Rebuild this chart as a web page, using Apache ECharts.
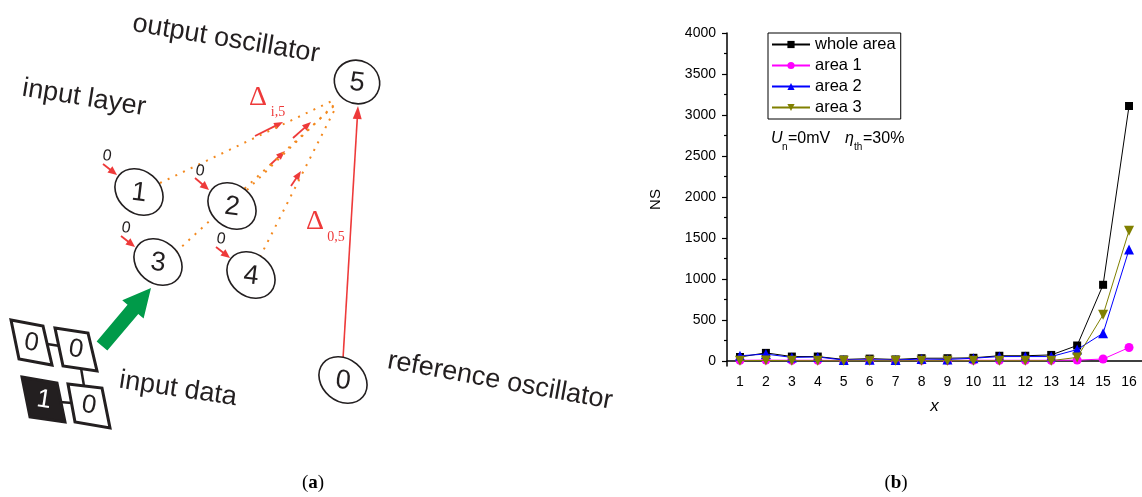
<!DOCTYPE html>
<html>
<head>
<meta charset="utf-8">
<script src="https://cdn.jsdelivr.net/npm/echarts@6/dist/echarts.min.js"></script>
<style>
html,body{margin:0;padding:0;background:#fff;}
#chart{width:1142px;height:497px;}
</style>
</head>
<body>
<div id="chart"></div>
<script>
// ---------- chart data ----------
const categories = ['1','2','3','4','5','6','7','8','9','10','11','12','13','14','15','16'];
const wholeArea = [50, 100, 55, 55, 20, 30, 20, 35, 35, 40, 65, 65, 75, 190, 930, 3110];
const area1     = [10, 12, 10, 10, 8, 10, 8, 10, 8, 10, 10, 10, 10, 12, 25, 165];
const area2     = [65, 85, 45, 50, 12, 15, 12, 25, 20, 35, 55, 55, 55, 140, 340, 1360];
const area3     = [5, 8, 5, 5, 4, 5, 4, 5, 5, 5, 5, 5, 5, 45, 565, 1590];
const seriesNames = ['whole area', 'area 1', 'area 2', 'area 3'];
const yTickValues = [0, 500, 1000, 1500, 2000, 2500, 3000, 3500, 4000];
const yMinorTickValues = [250, 750, 1250, 1750, 2250, 2750, 3250, 3750];

// ---------- diagram helpers (left panel illustration) ----------
const INK = '#231F20';
const RED = '#EE3A3A';
const ORANGE = '#F3891F';
const GREEN = '#009A49';
const SANS = '"Liberation Sans", Arial, sans-serif';
const SERIF = '"Liberation Serif", "Times New Roman", serif';

function arrow(x1, y1, x2, y2, color, lw, hl, hw) {
  const dx = x2 - x1, dy = y2 - y1, L = Math.hypot(dx, dy), ux = dx / L, uy = dy / L;
  const bx = x2 - ux * hl, by = y2 - uy * hl;
  return [
    {type: 'line', silent: true, shape: {x1: x1, y1: y1, x2: bx + ux, y2: by + uy}, style: {stroke: color, lineWidth: lw}},
    {type: 'polygon', silent: true, shape: {points: [[x2, y2], [bx - uy * hw / 2, by + ux * hw / 2], [bx + uy * hw / 2, by - ux * hw / 2]]}, style: {fill: color}}
  ];
}
function txt(x, y, text, size, rot, opts) {
  opts = opts || {};
  return {type: 'text', silent: true, x: x, y: y, rotation: rot || 0, z: 10,
    style: Object.assign({text: text, fontSize: size, fontFamily: SANS, fill: INK, align: 'center', verticalAlign: 'middle'}, opts)};
}
function node(x, y, label, rx, ry, rot) {
  return [
    {type: 'ellipse', silent: true, x: x, y: y, rotation: rot, shape: {cx: 0, cy: 0, rx: rx, ry: ry}, style: {fill: '#fff', stroke: INK, lineWidth: 1.6}, z: 5},
    txt(x, y + 1, label, 27, -0.12)
  ];
}
function dotted(x1, y1, x2, y2) {
  return {type: 'line', silent: true, shape: {x1: x1, y1: y1, x2: x2, y2: y2}, style: {stroke: ORANGE, lineWidth: 2, lineDash: [2, 6.5]}, z: 2};
}
function box(points, dark, label, cx, cy) {
  return [
    {type: 'polygon', silent: true, shape: {points: points}, style: {fill: dark ? INK : '#fff', stroke: INK, lineWidth: 3, lineJoin: 'miter'}, z: 5},
    txt(cx, cy, label, 26, -0.15, {fill: dark ? '#fff' : INK})
  ];
}
function bigArrow(tx, ty, px, py) {
  const dx = px - tx, dy = py - ty, L = Math.hypot(dx, dy), ux = dx / L, uy = dy / L, nx = -uy, ny = ux;
  const hl = 28, sw = 7, hw = 14;
  const kx = tx + ux * (L - hl), ky = ty + uy * (L - hl);
  return {type: 'polygon', silent: true, shape: {points: [
    [tx - nx * sw, ty - ny * sw], [kx - nx * sw, ky - ny * sw], [kx - nx * hw, ky - ny * hw], [px, py],
    [kx + nx * hw, ky + ny * hw], [kx + nx * sw, ky + ny * sw], [tx + nx * sw, ty + ny * sw]
  ]}, style: {fill: GREEN}, z: 4};
}

let diagram = [];
// dotted connections to output oscillator
diagram.push(dotted(160, 183, 334, 100), dotted(247, 190, 338, 101), dotted(176, 252, 336, 104), dotted(260, 257, 336, 107));
// nodes
diagram = diagram.concat(
  node(139, 192, '1', 26, 21, -0.7),
  node(232, 206, '2', 26, 21, -0.7),
  node(158, 262, '3', 26, 21, -0.7),
  node(251, 275, '4', 26, 21, -0.7),
  node(343, 380, '0', 26, 21, -0.7),
  node(357, 82, '5', 23, 21.5, -0.5)
);
// small input zeros + arrows
[[107, 156, 103, 164, 117, 175], [200, 171, 195, 178, 209, 190], [126, 228, 121, 236, 135, 247], [221, 239, 216, 247, 230, 258]].forEach(function (a) {
  diagram.push(txt(a[0], a[1], '0', 16, -0.15, {fontFamily: SANS}));
  diagram = diagram.concat(arrow(a[2], a[3], a[4], a[5], RED, 1.8, 9, 8));
});
// arrows along the dotted lines
diagram = diagram.concat(
  arrow(255, 136, 283, 122, RED, 1.8, 9, 7),
  arrow(293, 138, 311, 122, RED, 1.8, 9, 7),
  arrow(270, 165, 285, 151, RED, 1.8, 9, 7),
  arrow(291, 186, 301, 171, RED, 1.8, 9, 7),
  arrow(343, 359, 358, 106, RED, 1.6, 13, 9)
);
// delta labels
diagram.push(
  txt(258, 98, 'Δ', 28, 0, {fill: RED, fontFamily: SERIF}),
  txt(278, 112, 'i,5', 14, 0, {fill: RED, fontFamily: SERIF}),
  txt(315, 222, 'Δ', 28, 0, {fill: RED, fontFamily: SERIF}),
  txt(336, 237, '0,5', 14, 0, {fill: RED, fontFamily: SERIF})
);
// input data boxes
diagram = diagram.concat(
  [{type: 'line', silent: true, shape: {x1: 47, y1: 344, x2: 60, y2: 346}, style: {stroke: INK, lineWidth: 2.5}, z: 4},
   {type: 'line', silent: true, shape: {x1: 81, y1: 368, x2: 84, y2: 386}, style: {stroke: INK, lineWidth: 2.5}, z: 4},
   {type: 'line', silent: true, shape: {x1: 60, y1: 402, x2: 72, y2: 403}, style: {stroke: INK, lineWidth: 2.5}, z: 4}],
  box([[11, 320], [43, 326], [52, 365], [19, 359]], false, '0', 31.5, 343),
  box([[55, 328], [88, 333], [97, 371], [63, 366]], false, '0', 76, 349.5),
  box([[22, 377], [57, 383], [65, 422], [30, 417]], true, '1', 44, 400),
  box([[68, 384], [102, 388], [110, 428], [75, 422]], false, '0', 89, 405.5)
);
diagram.push(bigArrow(102, 346, 151, 288));
// captions
diagram.push(
  txt(226, 39, 'output oscillator', 27, -0.165),
  txt(84, 98, 'input layer', 27, -0.16),
  txt(178, 389, 'input data', 27, -0.15),
  txt(500, 381, 'reference oscillator', 27, -0.18)
);
// panel labels
function panelLabel(x, letter) {
  return {type: 'text', silent: true, x: x, y: 483, style: {
    text: '{p|(}{b|' + letter + '}{p|)}',
    align: 'center', verticalAlign: 'middle',
    rich: {p: {fontSize: 19, fontFamily: SERIF, fill: '#000'}, b: {fontSize: 19, fontFamily: SERIF, fontWeight: 'bold', fill: '#000'}}
  }};
}
diagram.push(panelLabel(313, 'a'), panelLabel(896, 'b'));
// annotation in chart
diagram.push(
  {type: 'text', silent: true, x: 771, y: 147, style: {text: 'U', fontSize: 16, fontStyle: 'italic', fontFamily: SANS, fill: '#000', align: 'left', verticalAlign: 'bottom'}},
  {type: 'text', silent: true, x: 782, y: 152, style: {text: 'n', fontSize: 10, fontFamily: SANS, fill: '#000', align: 'left', verticalAlign: 'bottom'}},
  {type: 'text', silent: true, x: 788, y: 147, style: {text: '=0mV', fontSize: 16, fontFamily: SANS, fill: '#000', align: 'left', verticalAlign: 'bottom'}},
  {type: 'text', silent: true, x: 845, y: 147, style: {text: 'η', fontSize: 16, fontStyle: 'italic', fontFamily: SANS, fill: '#000', align: 'left', verticalAlign: 'bottom'}},
  {type: 'text', silent: true, x: 854, y: 152, style: {text: 'th', fontSize: 10, fontFamily: SANS, fill: '#000', align: 'left', verticalAlign: 'bottom'}},
  {type: 'text', silent: true, x: 863, y: 147, style: {text: '=30%', fontSize: 16, fontFamily: SANS, fill: '#000', align: 'left', verticalAlign: 'bottom'}}
);

// ---------- chart ----------
const chart = echarts.init(document.getElementById('chart'), null, {renderer: 'canvas'});
const downTri = 'path://M0,0L10,0L5,9Z';
const symbols = ['rect', 'circle', 'triangle', downTri];
const colors = ['#000000', '#FF00FF', '#0000FF', '#808000'];
const sizes = [8, 9, 10, 10];
const dataSets = [wholeArea, area1, area2, area3];

const option = {
  animation: false,
  backgroundColor: '#fff',
  textStyle: {fontFamily: SANS},
  grid: {left: 727, right: 0, top: 33, bottom: 131, containLabel: false},
  legend: {
    data: seriesNames,
    orient: 'vertical',
    left: 768, top: 33,
    padding: [3, 5, 3, 3],
    itemGap: 4,
    itemWidth: 38, itemHeight: 9,
    borderColor: '#000', borderWidth: 1,
    textStyle: {fontSize: 16.5, color: '#000', fontFamily: SANS, padding: [0, 0, 0, 0]}
  },
  xAxis: {
    type: 'category',
    data: categories,
    boundaryGap: true,
    name: 'x',
    nameLocation: 'middle',
    nameGap: 32,
    nameTextStyle: {fontSize: 17, fontStyle: 'italic', color: '#000'},
    axisLine: {lineStyle: {color: '#000', width: 1.5}},
    axisTick: {alignWithLabel: true, length: 5, inside: false, lineStyle: {color: '#000', width: 1.2}},
    axisLabel: {fontSize: 14, color: '#000', margin: 9, interval: 0},
    splitLine: {show: false}
  },
  yAxis: [{
    type: 'value',
    min: -60, max: 4000,
    name: 'NS',
    nameLocation: 'middle',
    nameGap: 64,
    nameTextStyle: {fontSize: 15, color: '#000'},
    axisLine: {show: true, lineStyle: {color: '#000', width: 1.5}},
    axisTick: {show: true, length: 5, customValues: yTickValues, lineStyle: {color: '#000', width: 1.2}},
    axisLabel: {fontSize: 14, color: '#000', margin: 11, customValues: yTickValues, formatter: function (v) { return String(v); }},
    splitLine: {show: false}
  }, {
    type: 'value',
    min: -60, max: 4000,
    position: 'left',
    axisLine: {show: false},
    axisTick: {show: true, length: 3, customValues: yMinorTickValues, lineStyle: {color: '#000', width: 1.2}},
    axisLabel: {show: false, customValues: []},
    splitLine: {show: false}
  }],
  series: dataSets.map(function (d, i) {
    return {
      name: seriesNames[i],
      type: 'line',
      data: d,
      yAxisIndex: 0,
      symbol: symbols[i],
      symbolSize: sizes[i],
      showAllSymbol: true,
      itemStyle: {color: colors[i]},
      lineStyle: {color: colors[i], width: 1},
      z: 2 + i
    };
  }),
  graphic: {elements: diagram}
};
chart.setOption(option);
</script>
</body>
</html>
